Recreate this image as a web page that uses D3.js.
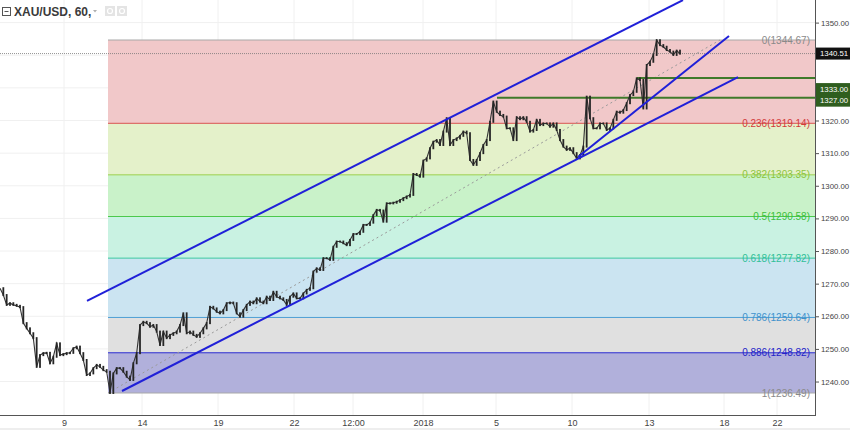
<!DOCTYPE html>
<html><head><meta charset="utf-8">
<script src="https://cdn.jsdelivr.net/npm/d3@7"></script>
<style>body{margin:0;background:#fff}svg{display:block}</style>
</head><body>
<svg id="c" width="850" height="430"></svg>
<script>
// ---------- data ----------
const priceTicks = [1240,1250,1260,1270,1280,1290,1300,1310,1320,1330,1340,1350];
const xTickIdx = [19.2,42.6,65.4,88.2,105.9,126.9,148.8,171.6,194.7,217.2,233.1];
const xTickLabels = ["9","14","19","22","12:00","2018","5","10","13","18","22"];
const prices = [
1268.6,1266.5,1263.5,1264.0,1263.5,1263.2,1262.8,1257.9,1256.3,1254.8,
1253.3,1244.5,1248.1,1248.7,1248.8,1245.6,1247.6,1251.7,1248.1,1248.4,
1248.7,1248.8,1250.2,1250.7,1248.7,1246.6,1242.0,1242.5,1244.1,1245.1,
1244.5,1243.5,1243.0,1236.5,1242.5,1244.1,1244.1,1243.0,1241.5,1240.5,
1245.6,1248.7,1257.3,1258.3,1257.9,1256.8,1257.3,1255.3,1251.2,1255.3,
1253.3,1254.3,1254.8,1255.3,1257.3,1260.9,1254.8,1255.3,1254.3,1253.7,
1254.8,1256.3,1257.9,1262.9,1262.4,1261.4,1260.9,1261.9,1264.0,1264.2,
1264.0,1260.9,1259.9,1261.9,1263.5,1264.5,1264.0,1265.5,1264.5,1264.0,
1266.0,1265.0,1267.5,1266.0,1265.5,1265.0,1263.5,1266.0,1267.0,1265.5,
1265.5,1267.0,1268.1,1268.6,1273.7,1274.7,1274.2,1277.8,1277.8,1277.3,
1281.3,1282.9,1282.9,1282.4,1281.8,1283.4,1285.2,1285.2,1285.9,1288.0,
1288.0,1288.7,1291.0,1292.6,1292.4,1289.0,1294.6,1294.6,1294.8,1295.1,
1295.6,1296.2,1296.7,1297.2,1303.6,1303.3,1302.8,1307.7,1308.4,1311.5,
1313.5,1314.0,1312.5,1316.6,1320.7,1312.5,1314.0,1314.5,1315.3,1316.6,
1316.1,1307.9,1306.4,1307.9,1310.0,1312.5,1314.0,1319.6,1325.8,1322.7,
1321.7,1321.2,1317.6,1317.6,1314.0,1321.0,1320.4,1321.0,1319.6,1316.6,
1317.1,1320.2,1318.6,1319.1,1319.1,1318.1,1319.1,1317.1,1314.0,1312.0,
1311.0,1311.5,1310.0,1308.4,1309.4,1312.0,1327.3,1320.7,1317.6,1317.6,
1319.1,1319.1,1317.1,1317.6,1320.2,1322.7,1322.4,1323.2,1325.3,1327.8,
1328.8,1332.9,1332.4,1323.7,1337.0,1338.0,1340.1,1344.6,1343.1,1342.6,
1341.6,1341.1,1340.1,1341.4,1340.5
];
const lastPrice = 1340.51;
const fibRatios = [0,0.236,0.382,0.5,0.618,0.786,0.886,1];
const fibValues = [1344.67,1319.14,1303.35,1290.58,1277.82,1259.64,1248.82,1236.49];
const fibStartIdx = 32.4;
const fibTrend = [[32.4,1236.49],[216,1344.67]];
const channelUpper = [[26.1,1264.7],[204.9,1356.9]];
const channelLower = [[36.6,1237.1],[221.4,1333.3]];
const steepLine = [[173.4,1308.8],[218.7,1345.9]];
const levelStartIdx = [191.1,149.1];
const levelValues = [1333.00,1327.00];
const hiddenTickLabels = [1330,1340]; // covered by the price tags

// ---------- styles ----------
const fibLineColors = ["#a8a8a8","#d9534f","#9bd04b","#4cc94c","#3cc8a0","#4f9fd4","#2b2bd0","#a8a8a8"];
const fibTextColors = ["#8a8a8a","#d23a3a","#8cc43c","#3cbf3c","#30bf98","#3f92cc","#2323c8","#8a8a8a"];
const fibFillColors = ["#f1c8c9","#e4f1ca","#c9f2c9","#c9f2e2","#cbe4f1","#e0e0e0","#b1b0db"];
const FONT = "Liberation Sans, Arial, sans-serif";

const W = 850, H = 430, plotR = 815, plotB = 415;
const svg = d3.select("#c");
const x = d3.scaleLinear().domain([0, 244.5]).range([0, plotR]);
const y = d3.scaleLinear().domain([1236.49, 1344.67]).range([393, 40]);

svg.append("rect").attr("width",W).attr("height",H).attr("fill","#fff");
const defs = svg.append("defs");
defs.append("clipPath").attr("id","plot").append("rect").attr("x",0).attr("y",0).attr("width",plotR).attr("height",plotB);

// grid
const grid = svg.append("g");
grid.selectAll("line.h").data(priceTicks).join("line")
  .attr("x1",0).attr("x2",plotR).attr("y1",d=>y(d)).attr("y2",d=>y(d))
  .attr("stroke","#f0f0f0").attr("stroke-width",1);
grid.selectAll("line.v").data(xTickIdx).join("line").attr("class","v")
  .attr("x1",d=>x(d)).attr("x2",d=>x(d)).attr("y1",0).attr("y2",plotB)
  .attr("stroke","#f0f0f0").attr("stroke-width",1);

// fib bands
const fx0 = x(fibStartIdx);
const fib = svg.append("g");
fib.selectAll("rect").data(fibFillColors).join("rect")
  .attr("x",fx0).attr("width",plotR-fx0)
  .attr("y",(d,i)=>y(fibValues[i])).attr("height",(d,i)=>y(fibValues[i+1])-y(fibValues[i]))
  .attr("fill",d=>d);
fib.selectAll("line").data(fibValues).join("line")
  .attr("x1",fx0).attr("x2",plotR).attr("y1",d=>y(d)).attr("y2",d=>y(d))
  .attr("stroke",(d,i)=>fibLineColors[i]).attr("stroke-width",1);

// last price line
svg.append("line").attr("x1",0).attr("x2",plotR).attr("y1",y(lastPrice)).attr("y2",y(lastPrice))
  .attr("stroke","#777").attr("stroke-width",0.8).attr("stroke-dasharray","1,1");

// fib trend dotted
const lineGen = d3.line().x(d=>x(d[0])).y(d=>y(d[1]));
svg.append("path").attr("d",lineGen(fibTrend)).attr("stroke","#9a9a9a").attr("stroke-width",1)
  .attr("stroke-dasharray","2,3").attr("fill","none");

// fib labels
fib.selectAll("text").data(fibValues).join("text")
  .attr("x",plotR-5).attr("y",d=>y(d)).attr("dy","0.35em").attr("text-anchor","end")
  .attr("font-family",FONT).attr("font-size",10)
  .attr("fill",(d,i)=>fibTextColors[i])
  .text((d,i)=>`${fibRatios[i]}(${d.toFixed(2)})`);

// horizontal green levels
svg.selectAll("line.lvl").data(levelValues).join("line").attr("class","lvl")
  .attr("x1",(d,i)=>x(levelStartIdx[i])).attr("x2",plotR).attr("y1",d=>y(d)).attr("y2",d=>y(d))
  .attr("stroke","#3f7a2a").attr("stroke-width",2);

// price bars
const pg = svg.append("g").attr("clip-path","url(#plot)");
pg.append("path").attr("d", d3.line().x((d,i)=>x(i)).y(d=>y(d))(prices))
  .attr("fill","none").attr("stroke","#333").attr("stroke-width",1.1);
pg.selectAll("rect").data(prices.slice(1)).join("rect")
  .attr("x",(d,i)=>x(i+1)-0.9).attr("width",1.8)
  .attr("y",(d,i)=>y(Math.max(d,prices[i]))-1)
  .attr("height",(d,i)=>Math.abs(y(d)-y(prices[i]))+2)
  .attr("fill","#262626");

// blue trend lines
const tl = svg.append("g").attr("clip-path","url(#plot)");
[channelUpper, channelLower, steepLine].forEach(seg=>{
  tl.append("path").attr("d",lineGen(seg)).attr("stroke","#2020d8").attr("stroke-width",2).attr("fill","none");
});

// axes
const yAxis = d3.axisRight(y).tickValues(priceTicks)
  .tickFormat(d=>hiddenTickLabels.includes(d) ? "" : d3.format(".2f")(d)).tickSize(4).tickPadding(2);
const ya = svg.append("g").attr("transform",`translate(${plotR},0)`).call(yAxis);
ya.select(".domain").remove();
ya.selectAll("line").attr("stroke","#555");
ya.selectAll("text").attr("font-family",FONT).attr("font-size",7.8).attr("fill","#444");

const xAxis = d3.axisBottom(x).tickValues(xTickIdx).tickFormat((d,i)=>xTickLabels[i]).tickSize(0).tickPadding(5);
const xa = svg.append("g").attr("transform",`translate(0,${plotB})`).call(xAxis);
xa.select(".domain").remove();
xa.selectAll("text").attr("font-family",FONT).attr("font-size",9).attr("fill","#444");

svg.append("line").attr("x1",plotR+0.5).attr("x2",plotR+0.5).attr("y1",0).attr("y2",plotB+1).attr("stroke","#555");
svg.append("line").attr("x1",0).attr("x2",plotR+1).attr("y1",plotB+0.5).attr("y2",plotB+0.5).attr("stroke","#555");
svg.append("rect").attr("x",0).attr("y",428).attr("width",W).attr("height",2).attr("fill","#eeeeee");

// price labels on axis
function tag(val, yc, fill){
  const g = svg.append("g");
  g.append("rect").attr("x",plotR+1).attr("y",yc-6).attr("width",W-plotR-1).attr("height",12).attr("fill",fill);
  g.append("text").attr("x",plotR+5).attr("y",yc).attr("dy","0.35em")
    .attr("font-family",FONT).attr("font-size",7.8).attr("fill","#fff").text(val.toFixed(2));
}
tag(lastPrice, y(lastPrice), "#111");
tag(levelValues[0], y(levelValues[0])+11, "#2f5e1f");
tag(levelValues[1], y(levelValues[1])+3, "#2f5e1f");

// title
const tg = svg.append("g");
tg.append("rect").attr("x",2.5).attr("y",7.5).attr("width",8).attr("height",8).attr("fill","none").attr("stroke","#555");
tg.append("line").attr("x1",4.5).attr("x2",8.5).attr("y1",11.5).attr("y2",11.5).attr("stroke","#555");
tg.append("text").attr("x",14).attr("y",16).attr("font-family",FONT)
  .attr("font-size",12).attr("font-weight","bold").attr("fill","#3a3a3a").text("XAU/USD, 60,");
tg.append("path").attr("d","M93,10 L97,10 L95,12.5 Z").attr("fill","#b0b0b0");
[105,117].forEach(px=>{
  tg.append("rect").attr("x",px).attr("y",6).attr("width",10).attr("height",10).attr("fill","#e4e4e4");
  tg.append("circle").attr("cx",px+5).attr("cy",11).attr("r",2.5).attr("fill","none").attr("stroke","#fff").attr("stroke-width",1.2);
});
</script>
</body></html>
